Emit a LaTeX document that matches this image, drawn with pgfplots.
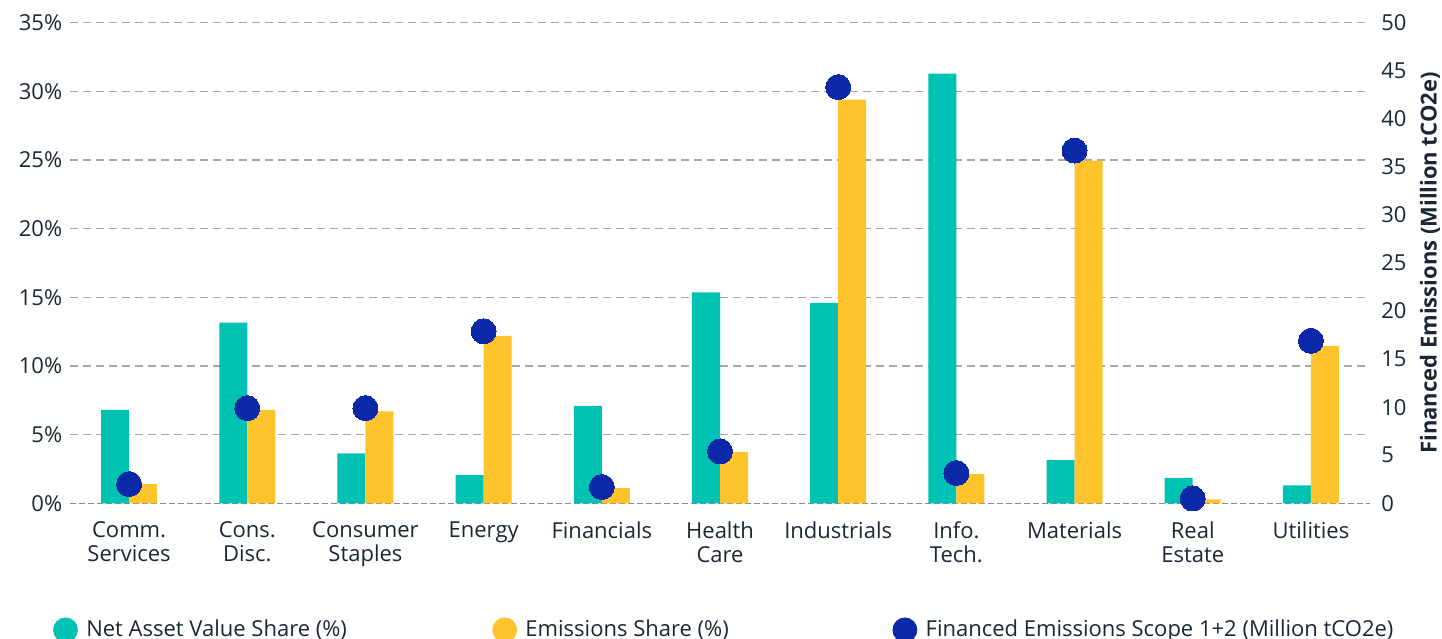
\documentclass[border=0pt]{standalone}
\usepackage{fontspec}
\setmainfont{Open Sans}
\usepackage{pgfplots}
\usepackage{pgfplotstable}
\pgfplotsset{compat=1.18}

\definecolor{navteal}{HTML}{00C2B2}
\definecolor{emiyellow}{HTML}{FFC42B}
\definecolor{finnavy}{HTML}{0B28A8}
\definecolor{inkdark}{HTML}{1C2735}
\definecolor{gridgrey}{HTML}{A8A8A8}
\definecolor{basegrey}{HTML}{8A8A8A}

% sector, NAV share (%), emissions share (%), financed emissions (Mt CO2e)
\pgfplotstableread{
x nav emi fin
0 6.80 1.40 2.0
1 13.15 6.80 9.9
2 3.64 6.70 9.9
3 2.06 12.20 17.9
4 7.09 1.11 1.7
5 15.37 3.74 5.4
6 14.60 29.40 43.3
7 31.30 2.13 3.15
8 3.15 24.95 36.7
9 1.86 0.29 0.5
10 1.31 11.46 16.9
}\sectordata

\newcommand{\chartfont}{\fontsize{11bp}{12bp}\selectfont}

\pgfplotsset{
  common/.style={
    at={(0,0)}, anchor=south west,
    scale only axis, width=650bp, height=240.3bp,
    xmin=-0.5, xmax=10.5,
    axis line style={draw=none},
    major tick length=0pt,
    /pgf/number format/assume math mode=true,
    tick label style={font=\chartfont, text=inkdark},
  }
}

\begin{document}
\begin{tikzpicture}
\useasboundingbox (-35bp,-67.85bp) rectangle (686bp,251.65bp);

\begin{axis}[
  common,
  ymin=0, ymax=35,
  xtick={0,...,10},
  xticklabels={Comm.\\Services, Cons.\\Disc., Consumer\\Staples, Energy, Financials,
    Health\\Care, Industrials, Info.\\Tech., Materials, Real\\Estate, Utilities},
  xticklabel style={align=center, yshift=-5.5bp},
  ytick={5,10,...,35},
  yticklabel={\pgfmathprintnumber{\tick}\%},
  extra y ticks={0},
  extra y tick labels={0\%},
  extra y tick style={grid style={basegrey, dash pattern=on 3bp off 1.5bp, line width=0.6bp}},
  yticklabel style={xshift=-0.4bp},
  ymajorgrids,
  grid style={gridgrey, dash pattern=on 4bp off 2.5bp, line width=0.6bp},
]
\addplot[ybar, bar width=0.237, bar shift=-0.1185, fill=navteal, draw=none]
  table[x=x, y=nav]{\sectordata};
\addplot[ybar, bar width=0.237, bar shift=0.1185, fill=emiyellow, draw=none]
  table[x=x, y=emi]{\sectordata};
\end{axis}

\begin{axis}[
  common,
  ymin=0, ymax=50,
  hide x axis,
  axis y line*=right,
  ytick={0,5,...,50},
  yticklabel style={xshift=2.1bp},
  ylabel={\bfseries Financed Emissions (Million tCO2e)},
  ylabel style={font=\chartfont, text=inkdark, at={([xshift=30bp]axis description cs:1,0.5)}, anchor=center},
  legend columns=3,
  legend style={draw=none, fill=none, inner sep=0pt, font=\chartfont, text=inkdark,
    at={(0,0)}, anchor=west, xshift=-8.65bp, yshift=-63.3bp,
    nodes={inner sep=0pt},
    /tikz/every odd column/.append style={column sep=4.2bp}},
]
\addlegendimage{legend image code/.code={\fill[navteal] (6bp,0bp) circle (6bp);}}
\addlegendentry{\makebox[203bp][l]{Net Asset Value Share (\%)}}
\addlegendimage{legend image code/.code={\fill[emiyellow] (6bp,0bp) circle (6bp);}}
\addlegendentry{\makebox[183.5bp][l]{Emissions Share (\%)}}
\addplot[only marks, mark=*, color=finnavy, mark size=6.25bp,
  mark options={fill=finnavy, draw=finnavy, line width=0pt},
  legend image code/.code={\fill[finnavy] (6bp,0bp) circle (6bp);}]
  table[x=x, y=fin]{\sectordata};
\addlegendentry{Financed Emissions Scope 1+2 (Million tCO2e)}
\end{axis}
\end{tikzpicture}
\end{document}
